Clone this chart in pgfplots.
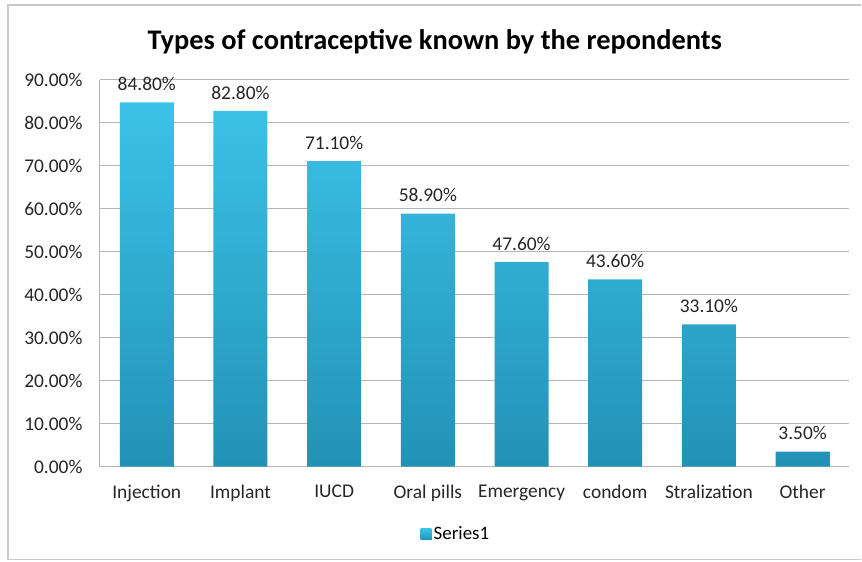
\documentclass[border=0pt]{standalone}
\usepackage{pgfplots}
\pgfplotsset{compat=1.18}
\usepackage{fontspec}
\setmainfont{Carlito}
\definecolor{gridgray}{RGB}{180,180,180}
\definecolor{frgray}{RGB}{200,200,200}
\definecolor{bartop}{RGB}{60,194,232}
\definecolor{barbot}{RGB}{34,146,182}
\begin{document}
\begin{tikzpicture}[x=1bp,y=1bp]
\path[fill=white] (0,0) rectangle (862,562);
\draw[frgray,line width=1.2bp] (8,2) -- (8,557) -- (862,557);
\draw[frgray,line width=1bp] (8,2) -- (862,2);
\node[font=\fontsize{28.5}{32}\selectfont\bfseries] at (435,520) {Types of contraceptive known by the repondents};
\begin{axis}[
  at={(100bp,95bp)}, anchor=south west,
  scale only axis, width=750bp, height=387bp,
  xmin=-0.5, xmax=7.5, ymin=0, ymax=90,
  xtick=data,
  xticklabels={Injection,Implant,IUCD,Oral pills,Emergency,condom,Stralization,Other},
  ytick={0,10,...,90},
  axis lines*=left,
  axis line style={gridgray, line width=1bp},
  ymajorgrids, grid style={gridgray, line width=1bp},
  major tick length=0pt,
  /pgf/number format/assume math mode=true,
  tick label style={font=\fontsize{19.5}{22}\selectfont, text=black!85},
  yticklabel={\pgfmathprintnumber[fixed,fixed zerofill,precision=2]{\tick}\%},
  yticklabel style={xshift=-14bp},
  xticklabel style={yshift=-15bp},
  ybar, bar width=54bp,
  nodes near coords={\pgfmathprintnumber[fixed,fixed zerofill,precision=2]{\pgfplotspointmeta}\%},
  nodes near coords style={font=\fontsize{19.5}{22}\selectfont, text=black!85, yshift=8bp},
  legend style={at={(0.475,-0.174)}, anchor=center, draw=none, font=\fontsize{19}{22}\selectfont},
  legend image code/.code={\fill[fill=bartop!85!barbot, draw=none] (0bp,-6bp) rectangle (11bp,5bp);},
  clip=false,
]
\addplot[draw=none, top color=bartop, bottom color=barbot] coordinates {(0,84.8) (1,82.8) (2,71.1) (3,58.9) (4,47.6) (5,43.6) (6,33.1) (7,3.5)};
\addlegendentry{Series1}
\end{axis}
\end{tikzpicture}
\end{document}
